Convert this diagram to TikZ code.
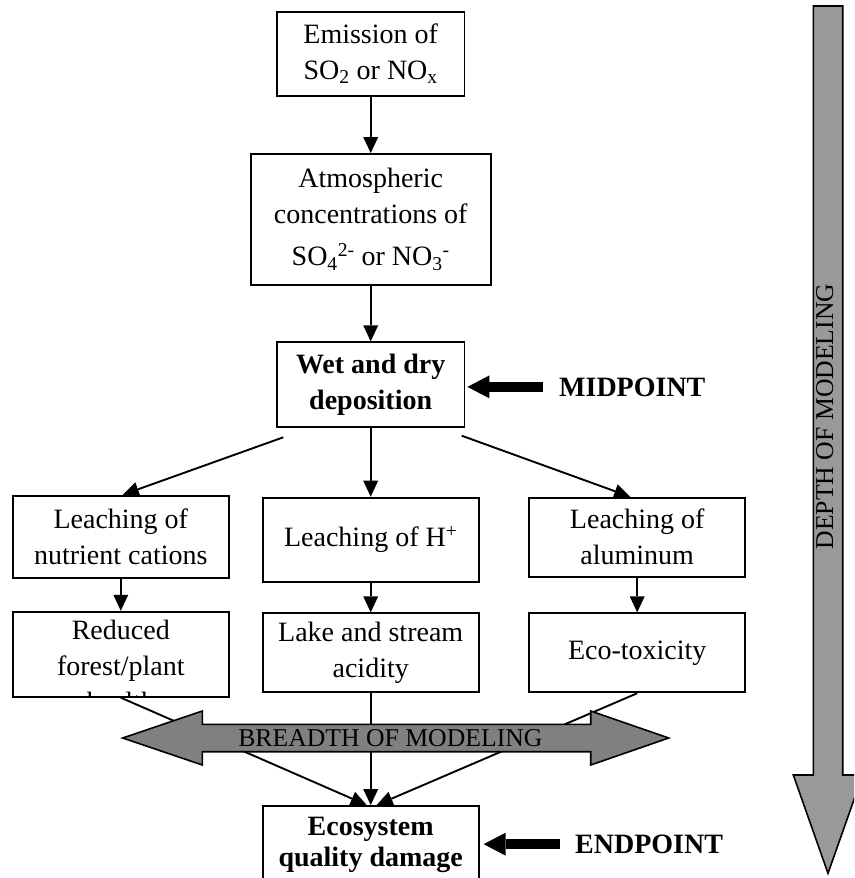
\documentclass[tikz,border=0pt]{standalone}
\usepackage{fontspec}
\setmainfont{Liberation Serif}
\usetikzlibrary{arrows.meta}
\definecolor{breadthgray}{RGB}{128,128,128}
\definecolor{depthgray}{RGB}{153,153,153}
\newcommand{\bodysize}{\fontsize{28}{36}\selectfont}
\newcommand{\scalesize}{\fontsize{25.7}{30}\selectfont}

\begin{document}
\begin{tikzpicture}[x=1pt,y=-1pt,
  box/.style={draw, line width=1.9pt, inner sep=0pt, align=center, font=\bodysize},
  flow/.style={line width=1.9pt, -{Triangle[length=16pt,width=15pt,line width=0pt]}},
  pointer/.style={line width=10pt, -{Triangle[length=22pt,width=23pt,line width=0pt]}},
  tag/.style={font=\bodysize\bfseries, inner sep=0pt, anchor=base west},
  scaletext/.style={font=\scalesize, inner sep=0pt, anchor=base},
  band/.style={draw, line width=1.6pt, line join=miter}
]
\clip (0,0) rectangle (854,878);

% main chain
\node[box, minimum width=187.6pt, minimum height=84.3pt] (emis) at (370.7,53.8)
  {Emission of\\SO\textsubscript{2} or NO\textsubscript{x}};
\node[box, minimum width=239.7pt, minimum height=131pt] (atm) at (370.7,219.5)
  {Atmospheric\\concentrations of\\[6pt]SO\textsubscript{4}\textsuperscript{2-} or NO\textsubscript{3}\textsuperscript{-}};
\node[box, font=\bodysize\bfseries, minimum width=187.6pt, minimum height=84.4pt] (wet) at (370.7,384.5)
  {Wet and dry\\deposition};

% first row of effects
\node[box, minimum width=216.3pt, minimum height=82.6pt] (l1) at (120.8,537) {Leaching of\\nutrient cations};
\node[box, minimum width=216pt, minimum height=84.3pt] (m1) at (370.7,539.8) {Leaching of H\textsuperscript{+}};
\node[box, minimum width=215.7pt, minimum height=79pt] (r1) at (637.2,537.2) {Leaching of\\aluminum};

% second row of effects
\node[box, minimum width=216.3pt, minimum height=85pt] (l2) at (120.8,654.2) {};
\begin{scope}
  \clip (l2.south west) rectangle (l2.north east);
  \node[font=\bodysize, align=center, inner sep=0pt, anchor=north] (l2text) at (120.8,620.2)
    {Reduced\\forest/plant\\health};
\end{scope}
\node[box, minimum width=216pt, minimum height=79pt] (m2) at (370.7,652.8) {Lake and stream\\acidity};
\node[box, minimum width=215.7pt, minimum height=79pt] (r2) at (637.2,652.8) {Eco-toxicity};

% endpoint box
\node[box, font=\fontsize{28}{31}\selectfont\bfseries, minimum width=216pt, minimum height=77pt] (eco) at (370.7,844.5)
  {Ecosystem\\quality damage};

% connectors
\draw[flow] (emis.south) -- (atm.north);
\draw[flow] (atm.south) -- (wet.north);
\coordinate (wl) at (283.3,437.3);
\coordinate (wr) at (461.7,435.7);
\draw[flow] (wl) -- ([xshift=2pt]l1.north);
\draw[flow] (wet.south) -- (m1.north);
\draw[flow] (wr) -- ([xshift=-7pt]r1.north);
\draw[flow] (l1.south) -- (l2.north);
\draw[flow] (m1.south) -- (m2.north);
\draw[flow] (r1.south) -- (r2.north);
\draw[flow] (l2.south) -- ([xshift=-4pt]eco.north);
\draw[flow] (m2.south) -- (eco.north);
\draw[flow] (r2.south) -- ([xshift=6pt]eco.north);

% breadth band
\draw[band, fill=breadthgray] (122.7,738) -- (202.3,711) -- (202.3,724.3) -- (590.7,724.3)
  -- (590.7,711) -- (668.7,738) -- (590.7,765) -- (590.7,751.7) -- (202.3,751.7)
  -- (202.3,765) -- cycle;
\node[scaletext] (breadth) at (390.4,746.7) {BREADTH OF MODELING};

% depth band
\draw[band, fill=depthgray] (813.3,6) -- (842.7,6) -- (842.7,775) -- (862.7,775)
  -- (828,873.3) -- (793.3,775) -- (813.3,775) -- cycle;
\node[scaletext, rotate=90] (depth) at (833,416.5) {DEPTH OF MODELING};

% level markers
\node[tag] (mid) at (559,396) {MIDPOINT};
\draw[pointer, shorten <=15.7pt, shorten >=2pt] (mid.west) -- (mid.west -| wet.east);
\node[tag] (endp) at (575,853.3) {ENDPOINT};
\draw[pointer, shorten <=15pt, shorten >=4pt] (endp.west) -- (endp.west -| eco.east);
\end{tikzpicture}
\end{document}
